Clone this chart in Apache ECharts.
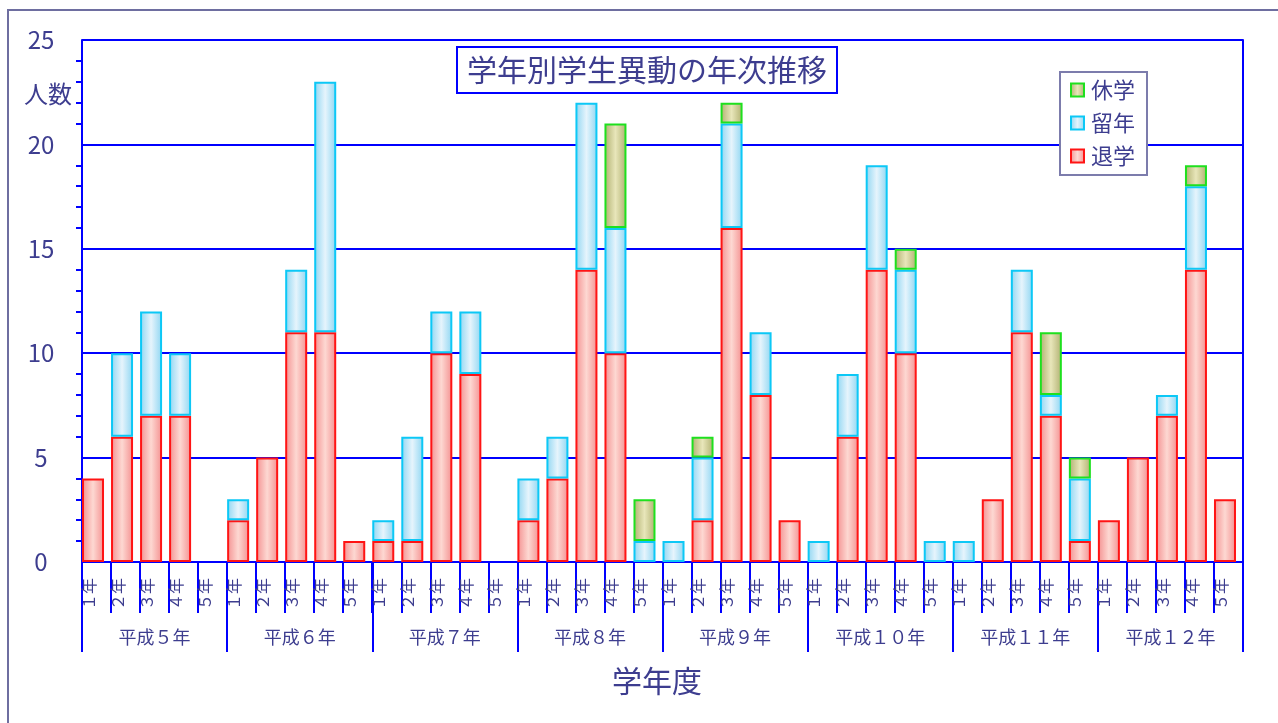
<!DOCTYPE html>
<html lang="ja">
<head>
<meta charset="utf-8">
<title>学年別学生異動の年次推移</title>
<script src="https://cdn.jsdelivr.net/npm/echarts@6/dist/echarts.min.js"></script>
<style>
  html, body { margin: 0; padding: 0; background: #ffffff; }
  #chart { width: 1278px; height: 723px; }
</style>
</head>
<body>
<div id="chart"></div>
<script>
// Fiscal years (平成) and the grades shown within each year
const years = ['平成５年', '平成６年', '平成７年', '平成８年', '平成９年', '平成１０年', '平成１１年', '平成１２年'];
const grades = ['１年', '２年', '３年', '４年', '５年'];

// Number of students per year / grade (5 grades for each year, in year order)
const withdrawn = [   // 退学
  4, 6, 7, 7, 0,
  2, 5, 11, 11, 1,
  1, 1, 10, 9, 0,
  2, 4, 14, 10, 0,
  0, 2, 16, 8, 2,
  0, 6, 14, 10, 0,
  0, 3, 11, 7, 1,
  2, 5, 7, 14, 3
];
const repeated = [    // 留年
  0, 4, 5, 3, 0,
  1, 0, 3, 12, 0,
  1, 5, 2, 3, 0,
  2, 2, 8, 6, 1,
  1, 3, 5, 3, 0,
  1, 3, 5, 4, 1,
  1, 0, 3, 1, 3,
  0, 0, 1, 4, 0
];
const leave = [       // 休学
  0, 0, 0, 0, 0,
  0, 0, 0, 0, 0,
  0, 0, 0, 0, 0,
  0, 0, 0, 5, 2,
  0, 1, 1, 0, 0,
  0, 0, 0, 1, 0,
  0, 0, 0, 3, 1,
  0, 0, 0, 1, 0
];

const yTicks = { min: 0, max: 25, interval: 5 };

const FONT = '"Noto Sans CJK JP", "Noto Sans", sans-serif';
const TEXT = '#3d3d8f';
const BLUE = '#0000ff';

// one category per (year, grade)
const categories = [];
years.forEach(() => grades.forEach(g => categories.push(g)));

// zero counts are left out so that no empty segment outline is drawn
const blankZero = arr => arr.map(v => (v === 0 ? '-' : v));

function sideGradient(edge, mid) {
  return new echarts.graphic.LinearGradient(0, 0, 1, 0, [
    { offset: 0, color: edge },
    { offset: 0.5, color: mid },
    { offset: 1, color: edge }
  ]);
}

function stackSeries(name, data, border, edge, mid) {
  return {
    name: name,
    type: 'bar',
    stack: 'total',
    barWidth: 22,
    barGap: '0%',
    data: blankZero(data),
    itemStyle: {
      color: sideGradient(edge, mid),
      borderColor: border,
      borderWidth: 2
    },
    emphasis: { disabled: true },
    z: 3
  };
}

const chart = echarts.init(document.getElementById('chart'), null, { renderer: 'canvas' });

chart.setOption({
  animation: false,
  backgroundColor: '#ffffff',
  textStyle: { fontFamily: FONT },
  title: {
    text: '学年別学生異動の年次推移',
    left: 457,
    top: 47,
    padding: [6, 10, 6, 10],
    borderColor: BLUE,
    borderWidth: 2,
    backgroundColor: '#ffffff',
    textStyle: { fontFamily: FONT, fontSize: 30, fontWeight: 'normal', color: TEXT, lineHeight: 34 }
  },
  legend: {
    data: ['休学', '留年', '退学'],
    orient: 'vertical',
    left: 1060,
    top: 72,
    padding: [7, 12, 8, 10],
    itemGap: 11,
    itemWidth: 13,
    itemHeight: 13,
    borderColor: '#7c7cac',
    borderWidth: 2,
    backgroundColor: '#ffffff',
    selectedMode: false,
    icon: 'rect',
    textStyle: { fontFamily: FONT, fontSize: 22, color: TEXT, padding: [0, 0, 0, 2] },
    z: 10
  },
  grid: { left: 82, right: 35, top: 40, bottom: 161, containLabel: false },
  xAxis: [
    {
      type: 'category',
      data: categories,
      position: 'bottom',
      boundaryGap: true,
      axisLine: { show: true, lineStyle: { color: BLUE, width: 2 } },
      axisTick: { show: true, interval: 0, length: 51, lineStyle: { color: BLUE, width: 2 } },
      axisLabel: {
        interval: 0,
        rotate: 90,
        margin: 16,
        fontSize: 16,
        color: TEXT,
        fontFamily: FONT,
        align: 'right',
        verticalAlign: 'bottom'
      },
      splitLine: { show: false }
    },
    {
      type: 'category',
      data: years,
      position: 'bottom',
      boundaryGap: true,
      axisLine: { show: false },
      axisTick: { show: true, interval: 0, length: 90, lineStyle: { color: BLUE, width: 2 } },
      axisLabel: { interval: 0, margin: 66, fontSize: 18, color: TEXT, fontFamily: FONT },
      splitLine: { show: false }
    }
  ],
  yAxis: [
    {
      type: 'value',
      min: yTicks.min,
      max: yTicks.max,
      interval: yTicks.interval,
      axisLine: { show: true, lineStyle: { color: BLUE, width: 2 } },
      axisTick: { show: false },
      minorTick: { show: true, splitNumber: 5, length: 6, lineStyle: { color: BLUE, width: 2 } },
      axisLabel: { margin: 41, align: 'center', fontSize: 24, color: TEXT, fontFamily: FONT },
      splitLine: { show: true, lineStyle: { color: BLUE, width: 2 } }
    },
    {
      type: 'value',
      position: 'right',
      min: yTicks.min,
      max: yTicks.max,
      interval: yTicks.interval,
      axisLine: { show: true, lineStyle: { color: BLUE, width: 2 } },
      axisTick: { show: false },
      axisLabel: { show: false },
      splitLine: { show: false }
    }
  ],
  series: [
    stackSeries('退学', withdrawn, '#ff1414', '#f49090', '#fdd8d2'),
    stackSeries('留年', repeated, '#0cc8f6', '#8ed6f2', '#e6f4fc'),
    stackSeries('休学', leave, '#1ee01e', '#b0b070', '#e8e6ba'),
    // empty slot that keeps each stacked bar at the left of its category
    { name: 'spacer', type: 'bar', stack: 'spacer', barWidth: 7, barGap: '0%', data: [], silent: true }
  ],
  graphic: [
    {
      type: 'rect',
      shape: { x: 8, y: 10, width: 1300, height: 800 },
      style: { fill: 'none', stroke: '#6e6ea0', lineWidth: 2 },
      silent: true,
      z: -10
    },
    {
      type: 'text',
      left: 24,
      top: 82,
      style: { text: '人数', font: '24px ' + FONT, fill: TEXT }
    },
    {
      type: 'text',
      left: 612,
      top: 666,
      style: { text: '学年度', font: '30px ' + FONT, fill: TEXT }
    }
  ]
});
</script>
</body>
</html>
